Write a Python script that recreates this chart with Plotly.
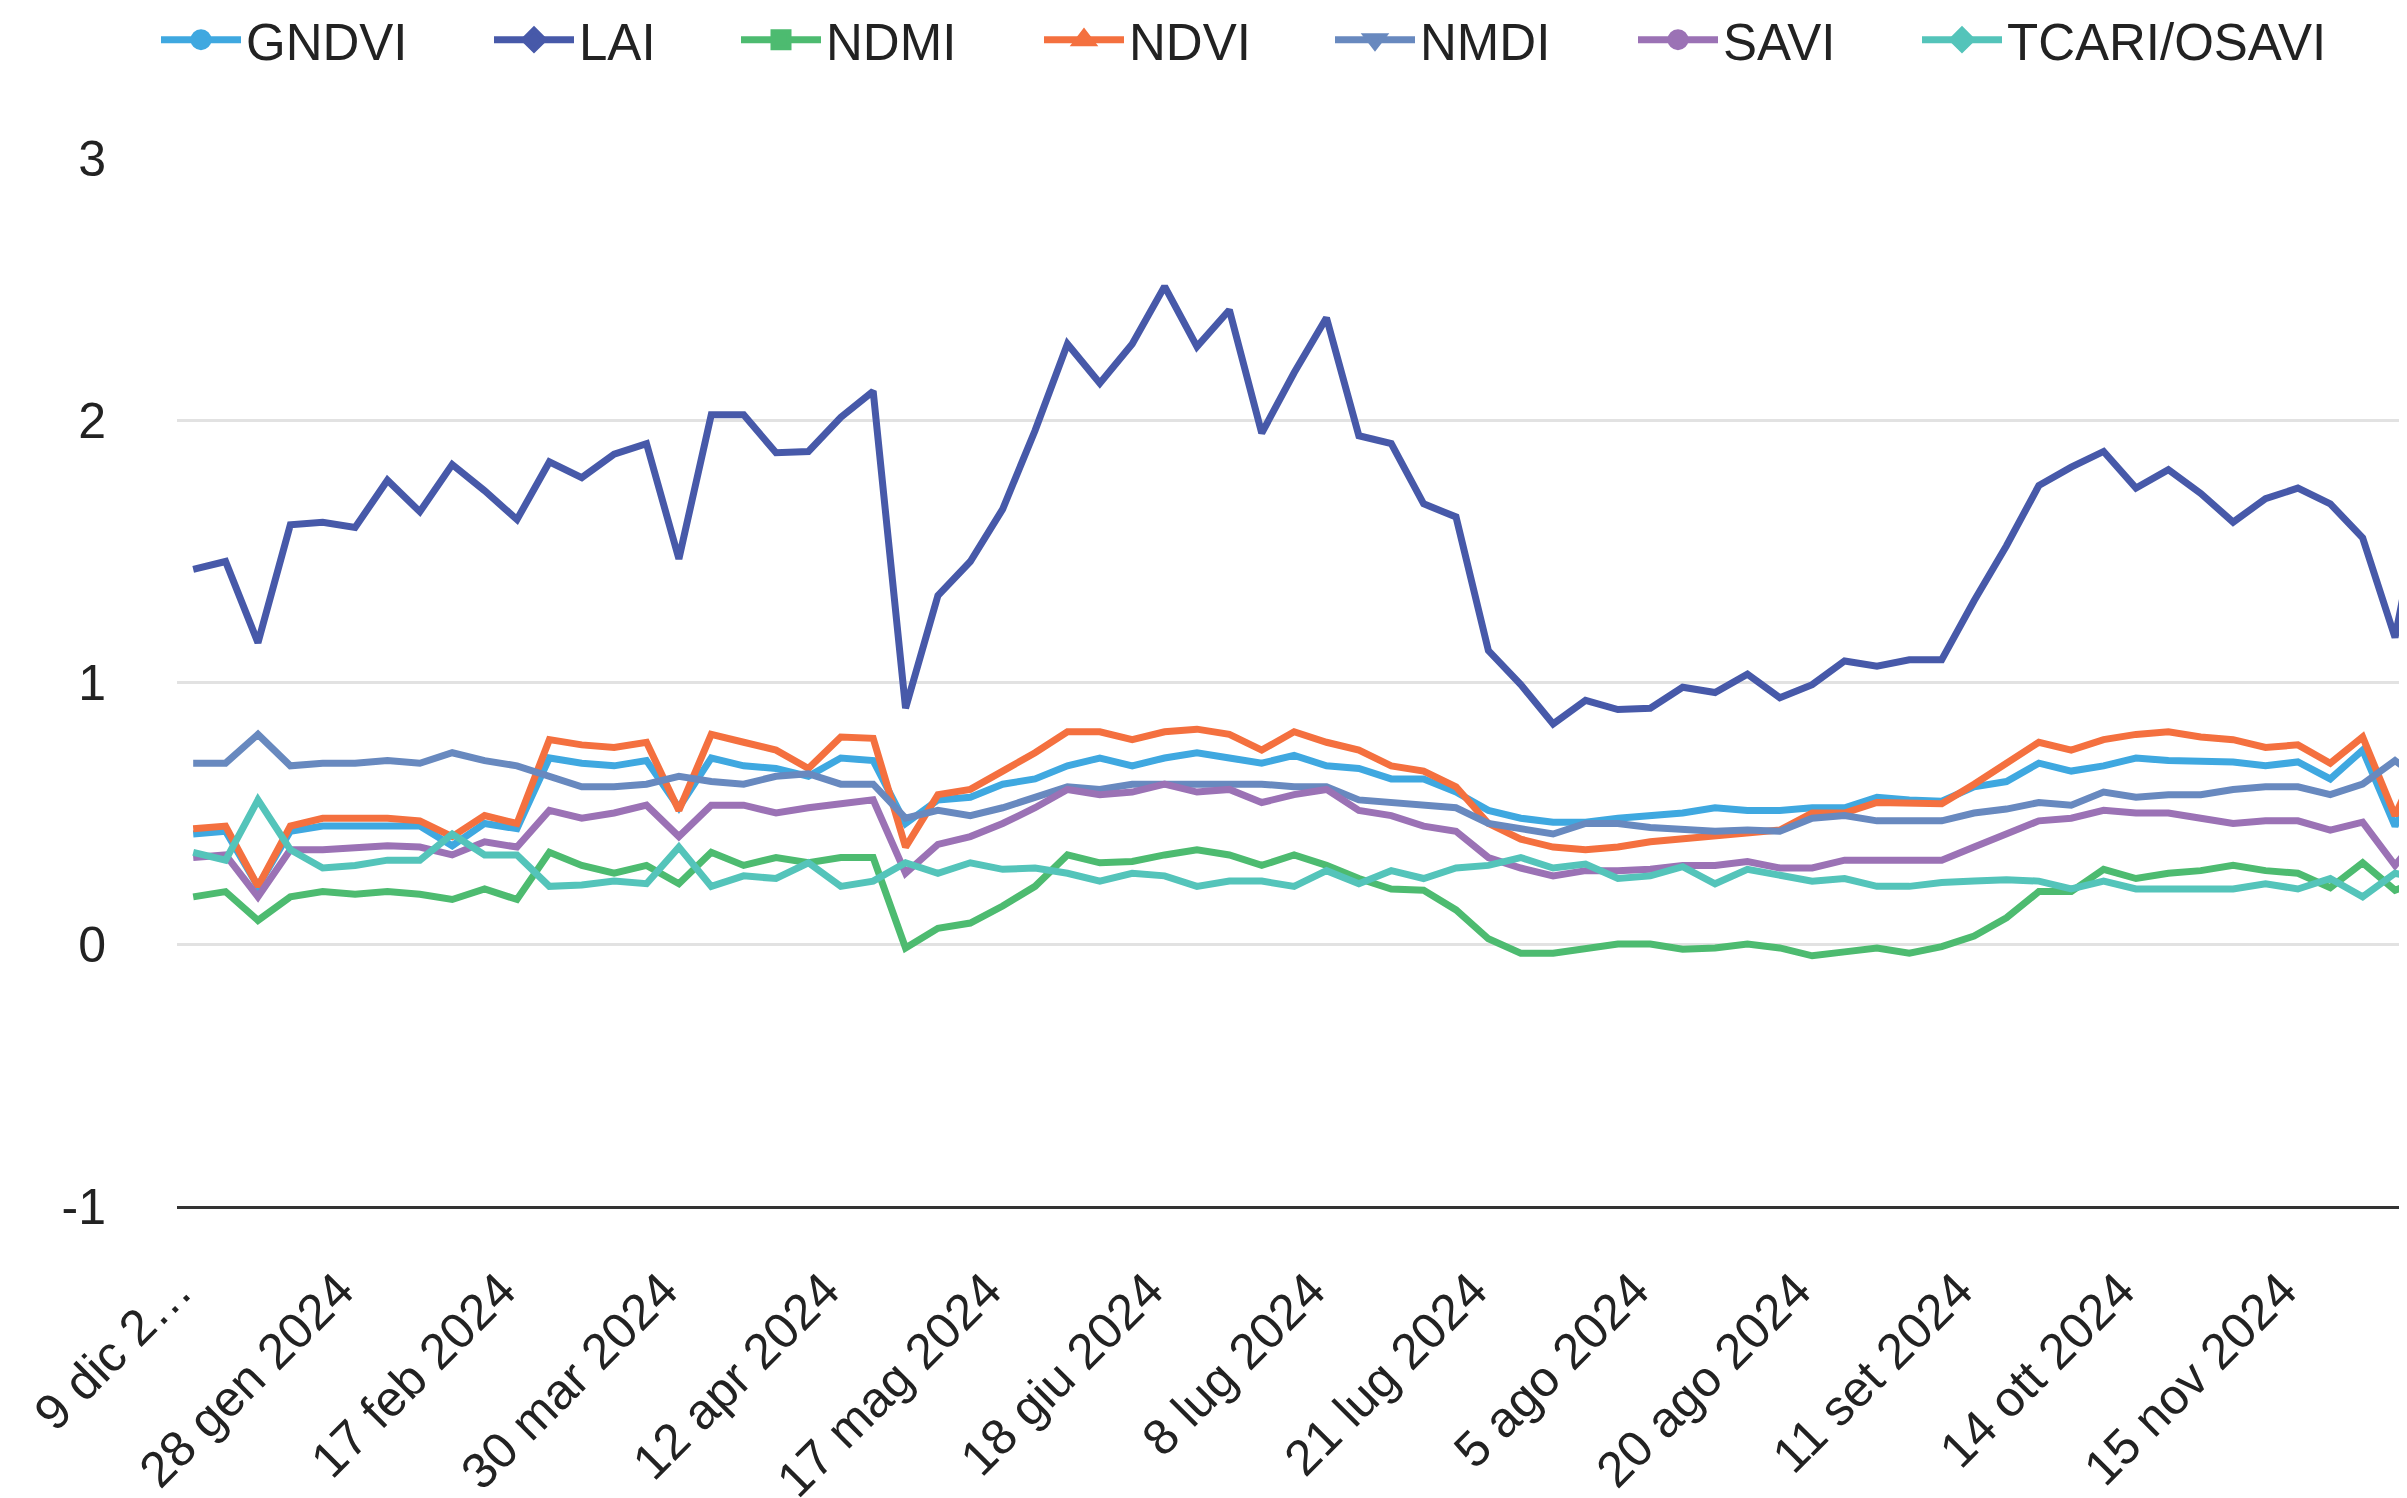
import plotly.graph_objects as go

dates = [
    "9 dic 2023", "14 dic 2023", "24 dic 2023", "8 gen 2024", "18 gen 2024",
    "28 gen 2024", "2 feb 2024", "5 feb 2024", "7 feb 2024", "12 feb 2024",
    "17 feb 2024", "22 feb 2024", "3 mar 2024", "13 mar 2024", "18 mar 2024",
    "30 mar 2024", "2 apr 2024", "4 apr 2024", "7 apr 2024", "9 apr 2024",
    "12 apr 2024", "22 apr 2024", "27 apr 2024", "2 mag 2024", "12 mag 2024",
    "17 mag 2024", "22 mag 2024", "1 giu 2024", "6 giu 2024", "11 giu 2024",
    "18 giu 2024", "21 giu 2024", "26 giu 2024", "28 giu 2024", "3 lug 2024",
    "8 lug 2024", "11 lug 2024", "13 lug 2024", "16 lug 2024", "18 lug 2024",
    "21 lug 2024", "23 lug 2024", "26 lug 2024", "28 lug 2024", "31 lug 2024",
    "5 ago 2024", "7 ago 2024", "10 ago 2024", "12 ago 2024", "15 ago 2024",
    "20 ago 2024", "25 ago 2024", "30 ago 2024", "1 set 2024", "6 set 2024",
    "11 set 2024", "16 set 2024", "21 set 2024", "1 ott 2024", "6 ott 2024",
    "14 ott 2024", "19 ott 2024", "24 ott 2024", "3 nov 2024", "8 nov 2024",
    "15 nov 2024", "20 nov 2024", "25 nov 2024", "5 dic 2024", "10 dic 2024",
]

tick_dates = ["9 dic 2023", "28 gen 2024", "17 feb 2024", "30 mar 2024", "12 apr 2024",
              "17 mag 2024", "18 giu 2024", "8 lug 2024", "21 lug 2024", "5 ago 2024",
              "20 ago 2024", "11 set 2024", "14 ott 2024", "15 nov 2024"]
tick_labels = ["9 dic 2…", "28 gen 2024", "17 feb 2024", "30 mar 2024", "12 apr 2024",
               "17 mag 2024", "18 giu 2024", "8 lug 2024", "21 lug 2024", "5 ago 2024",
               "20 ago 2024", "11 set 2024", "14 ott 2024", "15 nov 2024"]

gndvi = [0.42, 0.43, 0.22, 0.43, 0.45, 0.45, 0.45, 0.45, 0.375, 0.46,
         0.44, 0.71, 0.69, 0.68, 0.70, 0.52, 0.71, 0.68, 0.67, 0.64,
         0.71, 0.70, 0.46, 0.55, 0.56, 0.61, 0.63, 0.68, 0.71, 0.68,
         0.71, 0.73, 0.71, 0.69, 0.72, 0.68, 0.67, 0.63, 0.63, 0.58,
         0.51, 0.48, 0.465, 0.465, 0.48, 0.49, 0.50, 0.52, 0.51, 0.51,
         0.52, 0.52, 0.56, 0.55, 0.545, 0.60, 0.62, 0.69, 0.66, 0.68,
         0.71, 0.70, 0.70, 0.695, 0.68, 0.695, 0.63, 0.74, 0.45, 0.70]

lai = [1.43, 1.46, 1.15, 1.60, 1.61, 1.59, 1.77, 1.65, 1.83, 1.73,
       1.62, 1.84, 1.78, 1.87, 1.91, 1.47, 2.02, 2.02, 1.875, 1.88,
       2.01, 2.11, 0.90, 1.33, 1.46, 1.66, 1.96, 2.29, 2.14, 2.29,
       2.51, 2.28, 2.42, 1.95, 2.18, 2.39, 1.94, 1.91, 1.68, 1.63,
       1.12, 0.99, 0.84, 0.93, 0.895, 0.90, 0.98, 0.96, 1.03, 0.94,
       0.99, 1.08, 1.06, 1.085, 1.085, 1.31, 1.52, 1.75, 1.82, 1.88,
       1.74, 1.81, 1.72, 1.61, 1.70, 1.74, 1.68, 1.55, 1.17, 1.80]

ndmi = [0.18, 0.20, 0.09, 0.18, 0.20, 0.19, 0.20, 0.19, 0.17, 0.21,
        0.17, 0.35, 0.30, 0.27, 0.30, 0.23, 0.35, 0.30, 0.33, 0.31,
        0.33, 0.33, -0.015, 0.06, 0.08, 0.145, 0.22, 0.34, 0.31, 0.315,
        0.34, 0.36, 0.34, 0.30, 0.34, 0.30, 0.25, 0.21, 0.205, 0.13,
        0.02, -0.035, -0.035, -0.02, 0.0, 0.0, -0.02, -0.015, 0.0, -0.015,
        -0.045, -0.03, -0.015, -0.035, -0.01, 0.03, 0.10, 0.20, 0.20, 0.285,
        0.25, 0.27, 0.28, 0.30, 0.28, 0.27, 0.215, 0.31, 0.205, 0.25]

ndvi = [0.44, 0.45, 0.22, 0.45, 0.48, 0.48, 0.48, 0.47, 0.41, 0.49,
        0.46, 0.78, 0.76, 0.75, 0.77, 0.51, 0.80, 0.77, 0.74, 0.67,
        0.79, 0.785, 0.37, 0.57, 0.59, 0.66, 0.73, 0.81, 0.81, 0.78,
        0.81, 0.82, 0.80, 0.74, 0.81, 0.77, 0.74, 0.68, 0.66, 0.60,
        0.46, 0.40, 0.37, 0.36, 0.37, 0.39, 0.40, 0.41, 0.42, 0.435,
        0.50, 0.50, 0.54, 0.54, 0.535, 0.61, 0.69, 0.77, 0.74, 0.78,
        0.80, 0.81, 0.79, 0.78, 0.75, 0.76, 0.69, 0.79, 0.49, 0.76]

nmdi = [0.69, 0.69, 0.80, 0.68, 0.69, 0.69, 0.70, 0.69, 0.73, 0.70,
        0.68, 0.64, 0.60, 0.60, 0.61, 0.64, 0.62, 0.61, 0.64, 0.65,
        0.61, 0.61, 0.48, 0.51, 0.49, 0.52, 0.56, 0.60, 0.59, 0.61,
        0.61, 0.61, 0.61, 0.61, 0.60, 0.60, 0.55, 0.54, 0.525, 0.52,
        0.46, 0.44, 0.42, 0.46, 0.46, 0.445, 0.44, 0.43, 0.435, 0.43,
        0.48, 0.49, 0.47, 0.47, 0.47, 0.50, 0.515, 0.54, 0.53, 0.58,
        0.56, 0.57, 0.57, 0.59, 0.60, 0.60, 0.57, 0.61, 0.70, 0.61]

savi = [0.33, 0.34, 0.18, 0.36, 0.36, 0.365, 0.375, 0.37, 0.34, 0.39,
        0.37, 0.51, 0.48, 0.50, 0.53, 0.41, 0.53, 0.53, 0.50, 0.52,
        0.535, 0.55, 0.27, 0.38, 0.41, 0.46, 0.52, 0.59, 0.57, 0.58,
        0.61, 0.58, 0.59, 0.54, 0.57, 0.59, 0.51, 0.49, 0.45, 0.43,
        0.33, 0.29, 0.26, 0.28, 0.28, 0.285, 0.30, 0.30, 0.315, 0.29,
        0.29, 0.32, 0.32, 0.32, 0.32, 0.37, 0.42, 0.47, 0.48, 0.51,
        0.50, 0.50, 0.48, 0.46, 0.47, 0.47, 0.435, 0.465, 0.30, 0.45]

tcari_osavi = [0.35, 0.32, 0.55, 0.36, 0.29, 0.30, 0.32, 0.32, 0.42, 0.34,
               0.34, 0.22, 0.225, 0.24, 0.23, 0.37, 0.22, 0.26, 0.25, 0.31,
               0.22, 0.24, 0.31, 0.27, 0.31, 0.285, 0.29, 0.27, 0.24, 0.27,
               0.26, 0.22, 0.24, 0.24, 0.22, 0.28, 0.23, 0.28, 0.25, 0.29,
               0.30, 0.33, 0.29, 0.305, 0.25, 0.26, 0.295, 0.23, 0.285, 0.26,
               0.24, 0.25, 0.22, 0.22, 0.235, 0.24, 0.245, 0.24, 0.21, 0.24,
               0.21, 0.21, 0.21, 0.21, 0.23, 0.21, 0.25, 0.18, 0.27, 0.24]

series_names = ["GNDVI", "LAI", "NDMI", "NDVI", "NMDI", "SAVI", "TCARI/OSAVI"]
series_values = [gndvi, lai, ndmi, ndvi, nmdi, savi, tcari_osavi]
colors = ["#3FA8E0", "#4759A9", "#4DBB70", "#F4703F", "#6889BF", "#9B72B5", "#54C4BA"]
symbols = ["circle", "diamond", "square", "triangle-up", "triangle-down", "circle", "diamond"]

W, H = 2407, 1498
ML, MR, MT, MB = 169, 0, 150, 300
PW = W - ML - MR
PH = H - MT - MB
FONT = "Arial, Liberation Sans, sans-serif"

# pixel x where each legend entry's line starts
legend_px = [161, 494, 741, 1044, 1335, 1638, 1922]

fig = go.Figure()
for name, vals, col in zip(series_names, series_values, colors):
    fig.add_trace(go.Scatter(
        x=dates, y=vals, mode="lines", name=name, legendgroup=name,
        showlegend=False, line=dict(color=col, width=7),
    ))

for k, (name, col, sym) in enumerate(zip(series_names, colors, symbols)):
    lg = "legend" if k == 0 else f"legend{k+1}"
    fig.add_trace(go.Scatter(
        x=[None], y=[None], mode="lines+markers", name=name, legendgroup=name,
        showlegend=True, legend=lg,
        line=dict(color=col, width=7),
        marker=dict(color=col, symbol=sym, size=16, line=dict(color=col, width=6)),
    ))

layout_legends = {}
for k in range(len(series_names)):
    lg = "legend" if k == 0 else f"legend{k+1}"
    layout_legends[lg] = dict(
        x=(legend_px[k] - ML - 13) / PW, xanchor="left",
        y=(H - MB - 32) / PH, yanchor="middle",
        orientation="h", font=dict(family=FONT, size=51, color="#222222"),
        bgcolor="rgba(0,0,0,0)", borderwidth=0, itemwidth=80,
    )

fig.update_layout(
    width=W, height=H,
    margin=dict(l=ML, r=MR, t=MT, b=MB, autoexpand=False),
    plot_bgcolor="white", paper_bgcolor="white",
    font=dict(family=FONT, size=50, color="#222222"),
    hovermode="closest",
    **layout_legends,
)

fig.update_xaxes(
    type="category", categoryorder="array", categoryarray=dates,
    range=[-0.5, -0.5 + PW / 32.38],
    tickmode="array", tickvals=tick_dates, ticktext=tick_labels,
    tickangle=-45, tickfont=dict(family=FONT, size=50, color="#222222"),
    showgrid=False, showline=True, linecolor="#333333", linewidth=3,
    ticks="", ticklabelstandoff=32, ticklabelshift=-16, zeroline=False,
)
fig.update_yaxes(
    range=[-1, 3], tickmode="array", tickvals=[-1, 0, 1, 2, 3],
    ticktext=["-1", "0", "1", "2", "3"],
    tickfont=dict(family=FONT, size=50, color="#222222"),
    showgrid=True, gridcolor="#E2E2E2", gridwidth=2.5,
    zeroline=False, showline=False, ticks="", ticklabelstandoff=70,
)

fig.write_html("out.html")
